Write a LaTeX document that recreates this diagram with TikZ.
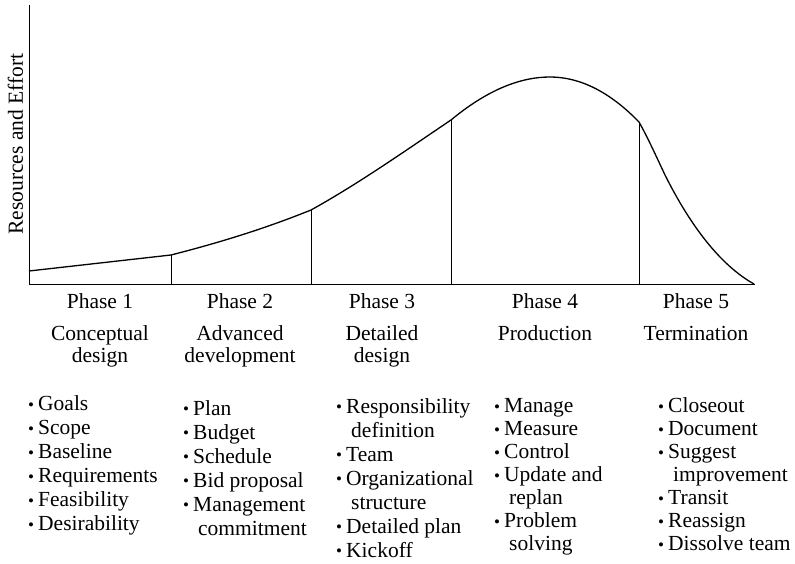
\documentclass[tikz,border=0pt]{standalone}
\usepackage{fontspec}
\setmainfont{Liberation Serif}
\newcommand{\bul}{\makebox[10pt][l]{\raisebox{0.6pt}{\fontsize{17}{17}\selectfont\textbullet}}}
\newcommand{\cont}{\hspace*{15pt}}
\begin{document}
\begin{tikzpicture}[x=1pt, y=-1pt,
  axis/.style={line width=1pt},
  curve/.style={line width=1.3pt},
  divider/.style={line width=0.8pt},
  phase/.style={font=\fontsize{21.5}{22}\selectfont, anchor=base, inner sep=0pt, align=center},
  tasks/.style={font=\fontsize{21.5}{24}\selectfont, anchor=base west, inner sep=0pt, align=left}]
  \useasboundingbox (0,0) rectangle (795,564);
  % axes and effort curve
  \coordinate (o) at (29,284);
  \coordinate (ytop) at (29,5);
  \coordinate (xend) at (755,284);
  \coordinate (s) at (29,271);
  \coordinate (c1) at (171,255);
  \coordinate (c2) at (311,210);
  \coordinate (c3) at (451,120);
  \coordinate (top) at (550,77);
  \coordinate (c4) at (639,122);
  \coordinate (bend) at (665,175);
  \coordinate (e) at (754,284);
  \draw[axis] (ytop) -- (o) -- (xend);
  \draw[curve] (s) -- (c1) .. controls (218,243) and (264,229) .. (c2)
    .. controls (358,184) and (405,151) .. (c3)
    .. controls (486,91) and (519,77) .. (top)
    .. controls (580,77) and (610,92) .. (c4)
    .. controls (648,138) and (656,156) .. (bend)
    .. controls (690,225) and (720,265) .. (e);
  \foreach \c in {c1,c2,c3,c4}
    \draw[divider] (\c) -- (\c |- o);
  \node[rotate=90, anchor=base, inner sep=0pt, font=\fontsize{21.5}{22}\selectfont] (ylab) at (23,144) {Resources and Effort};
  % phase headings (base = last line)
  \node[phase] (ph1) at (100,308) {Phase 1};
  \node[phase] (ph2) at (240,308) {Phase 2};
  \node[phase] (ph3) at (382,308) {Phase 3};
  \node[phase] (ph4) at (545,308) {Phase 4};
  \node[phase] (ph5) at (696,308) {Phase 5};
  \node[phase] (nm1) at (100,362) {Conceptual\\design};
  \node[phase] (nm2) at (240,362) {Advanced\\development};
  \node[phase] (nm3) at (382,362) {Detailed\\design};
  \node[phase] (nm4) at (545,340) {Production};
  \node[phase] (nm5) at (696,340) {Termination};
  % task lists
  \node[tasks] (lst1) at (28,530.7) {\bul Goals\\ \bul Scope\\ \bul Baseline\\ \bul Requirements\\ \bul Feasibility\\ \bul Desirability};
  \node[tasks] (lst2) at (183,535) {\bul Plan\\ \bul Budget\\ \bul Schedule\\ \bul Bid proposal\\ \bul Management\\ \cont commitment};
  \node[tasks] (lst3) at (336,557) {\bul Responsibility\\ \cont definition\\ \bul Team\\ \bul Organizational\\ \cont structure\\ \bul Detailed plan\\ \bul Kickoff};
  \node[tasks, font=\fontsize{21.5}{23}\selectfont] (lst4) at (494,550.7) {\bul Manage\\ \bul Measure\\ \bul Control\\ \bul Update and\\ \cont replan\\ \bul Problem\\ \cont solving};
  \node[tasks, font=\fontsize{21.5}{23}\selectfont] (lst5) at (658,550.7) {\bul Closeout\\ \bul Document\\ \bul Suggest\\ \cont improvement\\ \bul Transit\\ \bul Reassign\\ \bul Dissolve team};
\end{tikzpicture}
\end{document}
